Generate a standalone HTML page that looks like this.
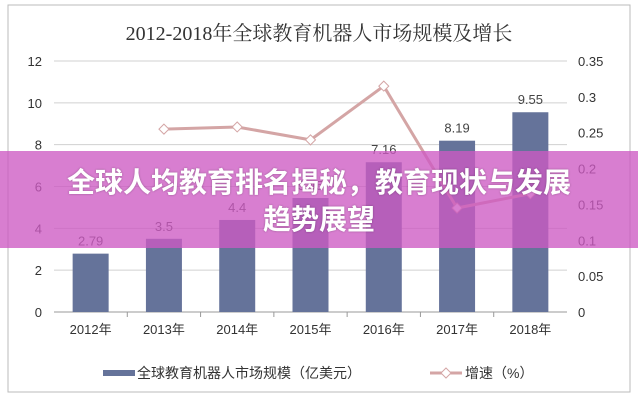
<!DOCTYPE html>
<html><head><meta charset="utf-8"><style>
body{margin:0;background:#fff;width:638px;height:400px;overflow:hidden;position:relative;font-family:"Liberation Sans","Noto Sans CJK SC",sans-serif}
#banner{position:absolute;left:0;top:151px;width:638px;height:97px;background:rgba(205,90,195,0.78);color:#fff;font-weight:bold;font-size:28px;text-align:center;line-height:37px;padding-top:12px;box-sizing:border-box;font-family:"Noto Sans CJK SC",sans-serif;text-shadow:0 0 2px rgba(0,0,0,0.3)}
</style></head><body>
<svg id="chart" width="638" height="400" style="position:absolute;left:0;top:0">
<rect x="8" y="5" width="622" height="387" fill="#fff" stroke="#bbb"/>
<text x="319" y="40" text-anchor="middle" font-size="20" fill="#333" font-family="Liberation Serif,Noto Serif CJK SC,serif">2012-2018年全球教育机器人市场规模及增长</text>
<g id="grid"></g><g id="bars"></g><g id="line"></g><g id="labels"></g>
<g>
<rect x="103" y="370" width="32" height="6" fill="#65739a"/>
<text x="137" y="378" font-size="14" fill="#333">全球教育机器人市场规模（亿美元）</text>
<line x1="430" y1="373" x2="462" y2="373" stroke="#d4a5a5" stroke-width="3"/>
<path d="M446 368 L451 373 L446 378 L441 373Z" fill="#fff" stroke="#d4a5a5"/>
<text x="465" y="378" font-size="14" fill="#333">增速（%）</text>
</g>
</svg>
<div id="banner">全球人均教育排名揭秘，教育现状与发展<br>趋势展望</div>
<script>
const categories=["2012年","2013年","2014年","2015年","2016年","2017年","2018年"];
const marketSize=[2.79,3.5,4.4,5.45,7.16,8.19,9.55];
const growth=[null,0.255,0.258,0.24,0.315,0.145,0.165];
const leftTicks=[0,2,4,6,8,10,12];
const rightTicks=["0","0.05","0.1","0.15","0.2","0.25","0.3","0.35"];
const NS="http://www.w3.org/2000/svg";
const L=54,R=567,T=61,B=312;
const yL=v=>B-(v/12)*(B-T);
const yR=v=>B-(v/0.35)*(B-T);
const step=(R-L)/categories.length;
const xC=i=>L+step*(i+0.5);
function mk(tag,attrs,parent){const e=document.createElementNS(NS,tag);for(const k in attrs)e.setAttribute(k,attrs[k]);parent.appendChild(e);return e;}
const grid=document.getElementById('grid');
leftTicks.forEach(v=>{
  const ln=mk('line',{x1:L,x2:R,y1:yL(v),y2:yL(v),stroke:v===0?'#999':'#d0d0d0'},grid);
  
  
  const t=mk('text',{x:42,y:yL(v)+5,'text-anchor':'end','font-size':13,fill:'#333'},grid);
  t.textContent=v;
  
  
});
rightTicks.forEach(s=>{
  const t=mk('text',{x:578,y:yR(parseFloat(s))+5,'font-size':13,fill:'#333'},grid);
  t.textContent=s;
  
  
});
categories.forEach((c,i)=>{
  const t=mk('text',{x:xC(i),y:334,'text-anchor':'middle','font-size':13,fill:'#333'},grid);
  t.textContent=c;
  
  
  if(i>0){const tk=mk('line',{x1:L+step*i,x2:L+step*i,y1:B,y2:B+5,stroke:'#999'},grid);
  
  }
});
const bars=document.getElementById('bars'),labels=document.getElementById('labels');
marketSize.forEach((v,i)=>{
  const r=mk('rect',{x:xC(i)-18,y:yL(v),width:36,height:B-yL(v),fill:'#65739a'},bars);
  
  
  const t=mk('text',{x:xC(i),y:yL(v)-8,'text-anchor':'middle','font-size':13,fill:'#444'},labels);
  t.textContent=v;
  
  
});
const line=document.getElementById('line');
const pts=growth.map((v,i)=>v==null?null:[xC(i),yR(v)]).filter(p=>p);
const pl=mk('polyline',{points:pts.map(p=>p.join(',')).join(' '),fill:'none',stroke:'#d4a5a5','stroke-width':3},line);


pts.forEach(p=>{
  const m=mk('path',{d:`M${p[0]} ${p[1]-5} L${p[0]+5} ${p[1]} L${p[0]} ${p[1]+5} L${p[0]-5} ${p[1]}Z`,fill:'#fff',stroke:'#d4a5a5'},line);
  
  
});
</script>
</body></html>
